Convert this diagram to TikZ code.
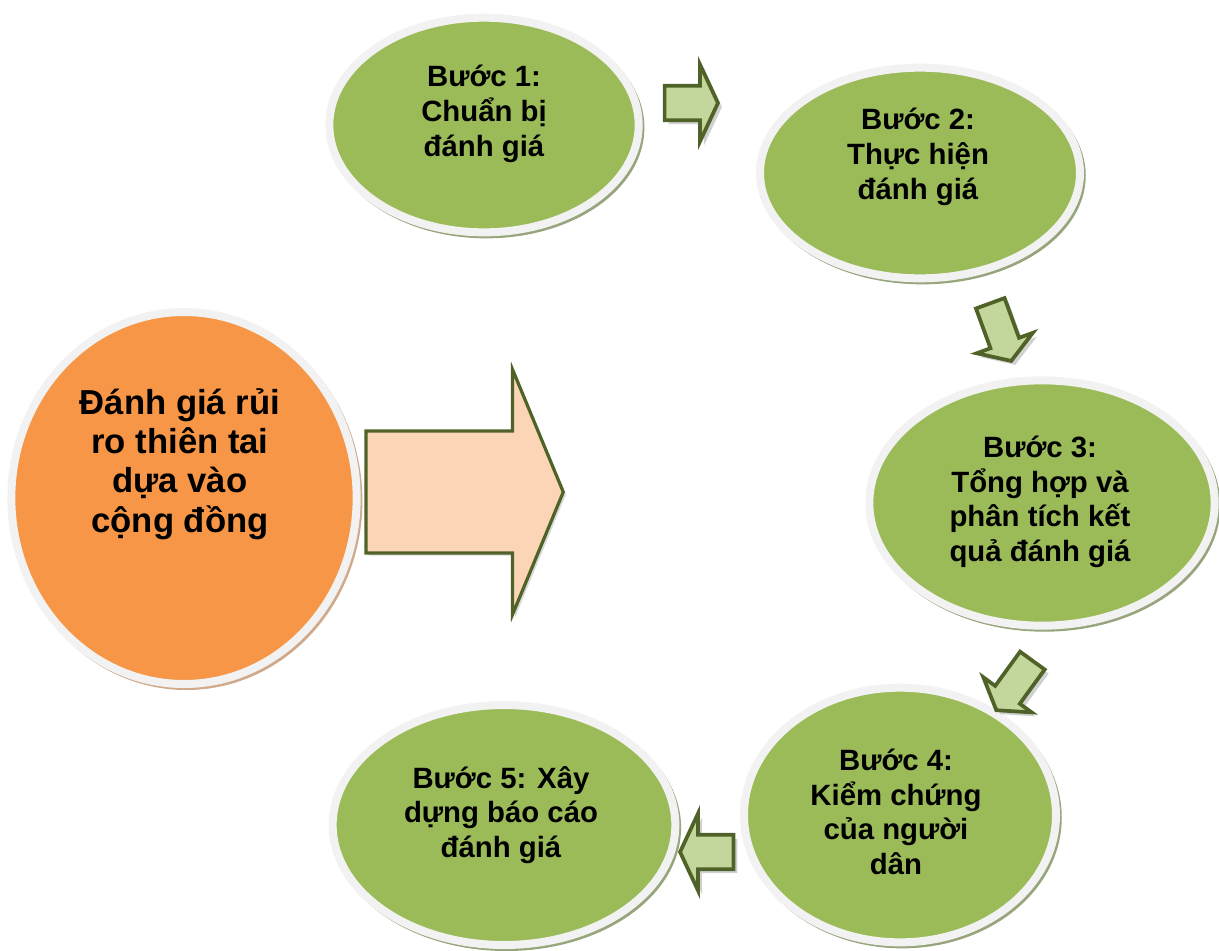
\documentclass[tikz,border=0pt]{standalone}
\usepackage{fontspec}
\setmainfont{Liberation Sans}
\usetikzlibrary{shapes.geometric,shapes.arrows,shadows}

\definecolor{stepgreen}{HTML}{9BBB59}
\definecolor{goalorange}{HTML}{F79646}
\definecolor{ringgray}{HTML}{F2F2F2}
\definecolor{rimgreen}{HTML}{97A57C}
\definecolor{rimbrown}{HTML}{CFA98A}
\definecolor{arrowgreen}{HTML}{C3D69B}
\definecolor{arrowline}{HTML}{4F6228}
\definecolor{bigpeach}{HTML}{FBD5B5}

\tikzset{
  bubble/.style={ellipse, draw=ringgray, line width=6pt, inner sep=0pt},
  stepbubble/.style={bubble, fill=stepgreen,
    general shadow={shadow xshift=1.8pt, shadow yshift=-2pt, draw=rimgreen, line width=5pt}},
  goalbubble/.style={bubble, fill=goalorange,
    general shadow={shadow xshift=1.8pt, shadow yshift=-2pt, draw=rimbrown, line width=5pt}},
  steptext/.style={font=\bfseries\fontsize{22}{26}\selectfont, align=center, inner sep=0pt},
  goaltext/.style={font=\bfseries\fontsize{26}{29.5}\selectfont, align=center, inner sep=0pt},
  steparrow/.style={single arrow, draw=arrowline, fill=arrowgreen, line width=2.8pt,
    inner sep=0pt, inner ysep=11.5pt, minimum height=40pt,
    single arrow head extend=16pt, single arrow tip angle=130, single arrow head indent=0pt,
    drop shadow={shadow xshift=3pt, shadow yshift=-3pt, fill=black!18, opacity=1}},
  tiltarrow/.style={steparrow, inner ysep=10pt, minimum height=46pt,
    single arrow head extend=11pt, single arrow tip angle=115},
  bigarrow/.style={single arrow, draw=arrowline, fill=bigpeach, line width=2.4pt,
    inner sep=0pt, inner ysep=44.6pt, minimum height=148pt,
    single arrow head extend=46pt, single arrow tip angle=135, single arrow head indent=0pt,
    drop shadow={shadow xshift=2pt, shadow yshift=-2pt, fill=black!15, opacity=1}}
}

\begin{document}
\begin{tikzpicture}[x=0.75pt,y=-0.75pt]
  \useasboundingbox (0,0) rectangle (1219,950);

  % bubbles
  \node[goalbubble, minimum width=259pt, minimum height=279pt] (goal) at (184,498) {};
  \begin{scope}[every node/.style={stepbubble}]
    \node[minimum width=232pt, minimum height=161pt] (b1) at (484,125) {};
    \node[minimum width=240pt, minimum height=158pt] (b2) at (920,173) {};
    \node[minimum width=259pt, minimum height=184pt] (b3) at (1042,503) {};
    \node[minimum width=234pt, minimum height=191pt] (b4) at (900,815) {};
    \node[minimum width=257pt, minimum height=180pt] (b5) at (504,825) {};
  \end{scope}

  % texts
  \node[goaltext] (tgoal) at (180,464) {Đánh giá rủi\\ro thiên tai\\dựa vào\\cộng đồng};
  \node[steptext] (t1) at (484,114) {Bước 1:\\Chuẩn bị\\đánh giá};
  \node[steptext] (t2) at (918,157) {Bước 2:\\Thực hiện\\đánh giá};
  \node[steptext] (t3) at (1040,502) {Bước 3:\\Tổng hợp và\\phân tích kết\\quả đánh giá};
  \node[steptext] (t4) at (896,812) {Bước 4:\\Kiểm chứng\\của người\\dân};
  \node[steptext] (t5) at (501,815) {Bước 5: Xây\\dựng báo cáo\\đánh giá};

  % arrows
  \node[bigarrow, anchor=tip] (big) at (565,492) {};
  \node[steparrow, anchor=tip] (a12) at (720,103) {};
  \node[tiltarrow, anchor=tip, rotate=-70] (a23) at (1012,363) {};
  \node[tiltarrow, anchor=tip, rotate=-126] (a34) at (995,712) {};
  \node[steparrow, anchor=tip, rotate=180] (a45) at (678,852) {};
\end{tikzpicture}
\end{document}
